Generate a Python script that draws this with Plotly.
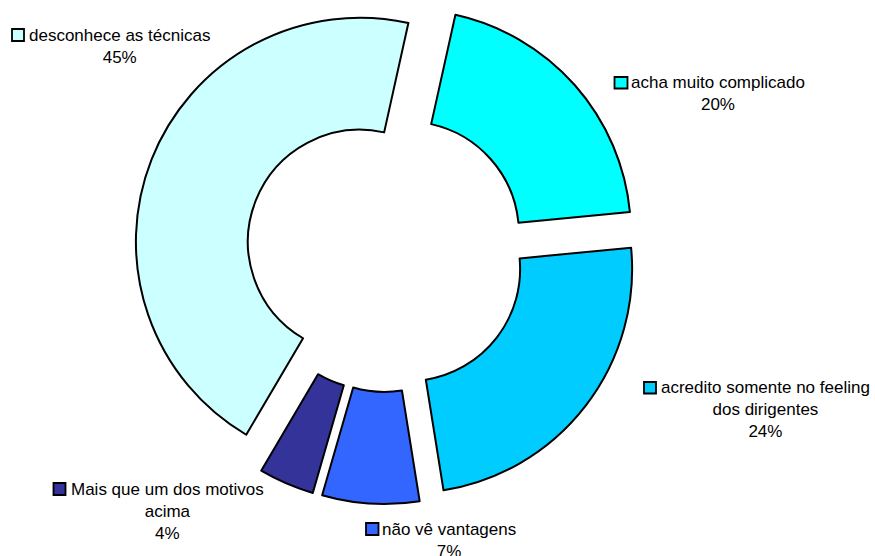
import plotly.graph_objects as go

# Reasons for not using the techniques (share of answers, %)
labels = [
    "acha muito complicado",
    "acredito somente no feeling<br>dos dirigentes",
    "não vê vantagens",
    "Mais que um dos motivos<br>acima",
    "desconhece as técnicas",
]
values = [20, 24, 7, 4, 45]
colors = ["#00FFFF", "#00CCFF", "#3366FF", "#333399", "#CCFFFF"]

W, H = 875, 556
total = sum(values)

fig = go.Figure(
    go.Pie(
        labels=labels,
        values=values,
        sort=False,
        direction="clockwise",
        rotation=12.5,
        hole=0.5,
        pull=[0.125] * len(values),
        marker=dict(colors=colors, line=dict(color="black", width=2)),
        textinfo="none",
        showlegend=False,
        domain=dict(x=[0.1411, 0.7411], y=[0.0935, 1.0]),
    )
)

# label placement: (text centre x, top y, key box x0, x1, y0, y1) in pixels
label_pos = [
    (718, 71, 614.5, 627.5, 77, 88.5),
    (765, 376, 644, 656, 382, 393.5),
    (449, 518, 366, 378.5, 523, 535),
    (167.5, 478, 53.5, 65.5, 483, 495),
    (119.5, 24, 12, 24, 29, 41),
]

font = dict(family="Arial, Liberation Sans, sans-serif", size=17, color="black")
for lab, v, col, (tx, ty, bx0, bx1, by0, by1) in zip(labels, values, colors, label_pos):
    pct = f"{v / total * 100:.0f}%"
    fig.add_annotation(
        x=tx / W, y=1 - ty / H, xref="paper", yref="paper",
        xanchor="center", yanchor="top", align="center",
        text=f"{lab}<br>{pct}", showarrow=False, font=font,
    )
    fig.add_shape(
        type="rect", xref="paper", yref="paper",
        x0=bx0 / W, x1=bx1 / W, y0=1 - by1 / H, y1=1 - by0 / H,
        fillcolor=col, line=dict(color="black", width=1.8),
    )

fig.update_layout(
    width=W, height=H,
    margin=dict(l=0, r=0, t=0, b=0),
    paper_bgcolor="white",
    plot_bgcolor="white",
)

fig.write_html("out.html")
